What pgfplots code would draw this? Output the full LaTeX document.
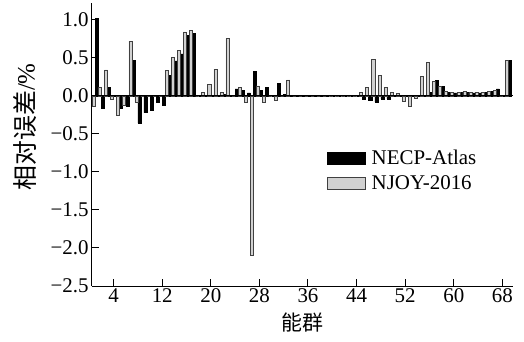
\documentclass[border=0pt]{standalone}
\usepackage{fontspec}
\setmainfont{Liberation Serif}
\newfontfamily\cjk{Noto Sans CJK SC}
\usepackage{pgfplots}
\usepackage{pgfplotstable}
\pgfplotsset{compat=1.18}
\pgfplotstableread{
g necp njoy
1 1.02 -0.14
2 -0.16 0.11
3 0.11 0.34
4 0 -0.05
5 -0.16 -0.26
6 -0.14 -0.12
7 0.47 0.72
8 -0.36 -0.08
9 -0.22 0
10 -0.19 0
11 -0.09 0
12 -0.12 0
13 0.27 0.33
14 0.46 0.50
15 0.55 0.60
16 0.79 0.84
17 0.82 0.86
18 0 0
19 0 0.04
20 0 0.15
21 0 0.35
22 0.02 0.04
23 0.01 0.75
24 0.09 0
25 0.07 0.11
26 0.04 -0.08
27 0.32 -2.10
28 0.07 0.13
29 0.11 -0.09
30 0 0
31 0.16 -0.06
32 0.02 0
33 0.01 0.21
34 0 0
35 0 0
36 0 0
37 0.01 0
38 0 0
39 0 0
40 0 0
41 0 0
42 0 0
43 0 0
44 0 0
45 -0.04 0.04
46 -0.06 0.11
47 -0.08 0.48
48 -0.04 0.27
49 -0.04 0.11
50 0.01 0.04
51 0.01 0.03
52 0 -0.07
53 0.01 -0.14
54 0 -0.03
55 0 0.25
56 0.05 0.44
57 0.20 0.19
58 0.12 0.12
59 0.05 0.06
60 0.04 0.04
61 0.05 0.05
62 0.05 0.06
63 0.04 0.04
64 0.04 0.04
65 0.05 0.04
66 0.06 0.06
67 0.09 0.07
68 0 0
69 0.47 0.47
}\datatable
\begin{document}
\begin{tikzpicture}
\begin{axis}[
  scale only axis, width=421bp, height=283bp,
  xmin=0.44, xmax=69.75, ymin=-2.5, ymax=1.22,
  axis x line=bottom, axis y line=left,
  axis line style={-, line width=1bp, black},
  xtick={4,12,20,28,36,44,52,60,68},
  xticklabels={4,12,20,28,36,44,52,60,68},
  ytick={-2.5,-2,-1.5,-1,-0.5,0,0.5,1},
  yticklabels={−2.5,−2.0,−1.5,−1.0,−0.5,0.0,0.5,1.0},
  tick align=inside, major tick length=7bp,
  tick style={black, line width=1bp},
  ticklabel style={font=\fontsize{21}{24}\selectfont},
  xticklabel style={yshift=1bp},
  xlabel={\cjk 能群},
  ylabel={{\cjk 相对误差}/\%},
  xlabel style={font=\fontsize{21}{24}\selectfont, at={(axis description cs:0.5,0)}, anchor=center, yshift=-37bp},
  ylabel style={font=\fontsize{25}{28}\selectfont, at={(axis description cs:-0.159,0.562)}, anchor=center},
  legend style={at={(axis description cs:0.558,0.489)}, anchor=north west,
    draw=none, fill=none, font=\fontsize{21}{24}\selectfont,
    row sep=6bp, column sep=4bp, inner sep=0pt},
  legend cell align=left,
  mybox/.style={legend image code/.code={\draw[##1] (0bp,-6bp) rectangle (38bp,6bp);}},
]
\addplot[ybar, bar width=0.5, bar shift=0.25, fill=black, draw=black, line width=0.5bp, mybox]
  table[x=g, y=necp]{\datatable};
\addlegendentry{NECP-Atlas}
\addplot[ybar, bar width=0.5, bar shift=-0.25, fill=black!18, draw=black!75, line width=0.6bp, mybox]
  table[x=g, y=njoy]{\datatable};
\addlegendentry{NJOY-2016}
\draw[black, line width=1.2bp] (axis cs:0.44,0) -- (axis cs:69.75,0);
\end{axis}
\path (current axis.south west) ++(-92bp,-56bp) rectangle ++(524bp,342bp);
\end{tikzpicture}
\end{document}
